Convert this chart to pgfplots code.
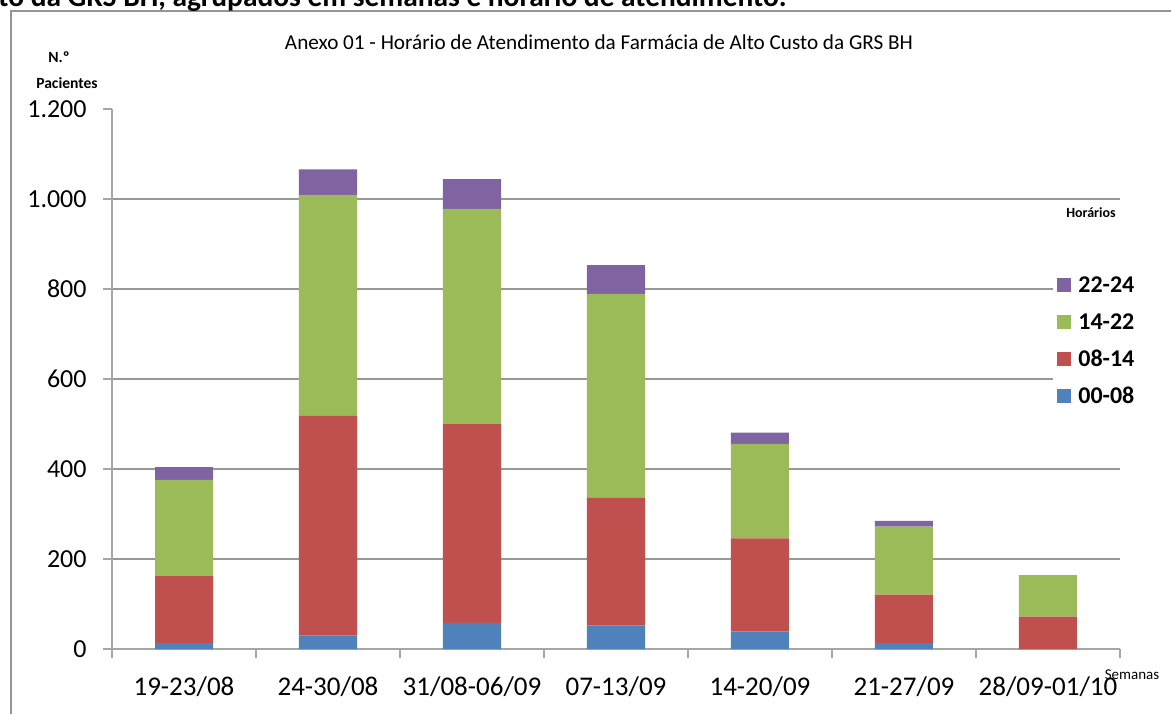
\documentclass[border=0pt]{standalone}
\usepackage{pgfplots}
\pgfplotsset{compat=1.18}
\usepackage{fontspec}
\setmainfont{Carlito}
\definecolor{cblue}{HTML}{4F81BD}
\definecolor{cred}{HTML}{C0504D}
\definecolor{cgreen}{HTML}{9BBB59}
\definecolor{cpurple}{HTML}{8064A2}
\definecolor{gridgray}{HTML}{989898}
\definecolor{axisgray}{HTML}{A6A6A6}
\begin{document}
\begin{tikzpicture}[x=0.5pt,y=0.5pt]
\useasboundingbox (0,0) rectangle (1171,713);
\draw[color=axisgray!90!black, line width=1.4pt] (11,-20) -- (11,702) -- (1200,702);
\node[anchor=base west, font=\bfseries\fontsize{14.7}{16}\selectfont, inner sep=0] at (-2,706) {to da GRS BH, agrupados em semanas e horário de atendimento.};
\node[font=\fontsize{10.6}{12}\selectfont, inner sep=0] at (599,671) {Anexo 01 - Horário de Atendimento da Farmácia de Alto Custo da GRS BH};
\node[font=\bfseries\fontsize{7.8}{9}\selectfont, inner sep=0] at (59,656) {N.º};
\node[font=\bfseries\fontsize{7.8}{9}\selectfont, inner sep=0] at (67,630) {Pacientes};
\node[font=\bfseries\fontsize{7}{9}\selectfont, inner sep=0] at (1091,500) {Horários};
\node[font=\fontsize{7.5}{9}\selectfont, inner sep=0] at (1132,38) {Semanas};
\begin{axis}[
  at={(56pt,32pt)}, anchor=south west,
  scale only axis, width=504pt, height=270pt,
  ybar stacked, bar width=29pt,
  xmin=-0.5, xmax=6.5, ymin=0, ymax=1200,
  axis lines*=left,
  axis line style={color=axisgray, line width=1.2pt},
  xtick={-0.5,0.5,...,6.5},
  x tick label as interval,
  xticklabels={19-23/08,24-30/08,31/08-06/09,07-13/09,14-20/09,21-27/09,28/09-01/10},
  xticklabel style={font=\fontsize{13.5}{15}\selectfont, inner sep=0pt, anchor=north, yshift=-9pt},
  ytick={0,200,...,1000},
  extra y ticks={1200},
  extra y tick style={grid=none},
  ymajorgrids,
  grid style={color=gridgray, line width=0.8pt},
  tick align=outside,
  major tick length=4.5pt,
  tick style={color=axisgray, line width=1pt},
  yticklabel style={font=\fontsize{13}{15}\selectfont, inner sep=0pt, anchor=east, xshift=-8pt},
  /pgf/number format/.cd, 1000 sep={.}, assume math mode=true,
  /pgfplots/.cd,
  reverse legend,
  legend style={at={(0.9335,0.698)}, anchor=north west, draw=none, fill=white,
    font=\bfseries\fontsize{12}{14}\selectfont, row sep=10.5pt, column sep=3.5pt, inner sep=2pt,
    nodes={text height=8pt, text depth=0pt, inner sep=0pt}},
  legend cell align=left,
  legend image code/.code={\fill[#1] (0pt,-4pt) rectangle (7pt,3pt);},
]
\addplot[fill=cblue, draw=none] coordinates {(0,13) (1,30) (2,58) (3,52) (4,39) (5,13) (6,0)};
\addplot[fill=cred, draw=none] coordinates {(0,149) (1,488) (2,442) (3,284) (4,207) (5,108) (6,72)};
\addplot[fill=cgreen, draw=none] coordinates {(0,214) (1,491) (2,478) (3,453) (4,210) (5,151) (6,92)};
\addplot[fill=cpurple, draw=none] coordinates {(0,28) (1,57) (2,66) (3,64) (4,25) (5,13) (6,0)};
\legend{00-08,08-14,14-22,22-24}
\end{axis}
\end{tikzpicture}
\end{document}
